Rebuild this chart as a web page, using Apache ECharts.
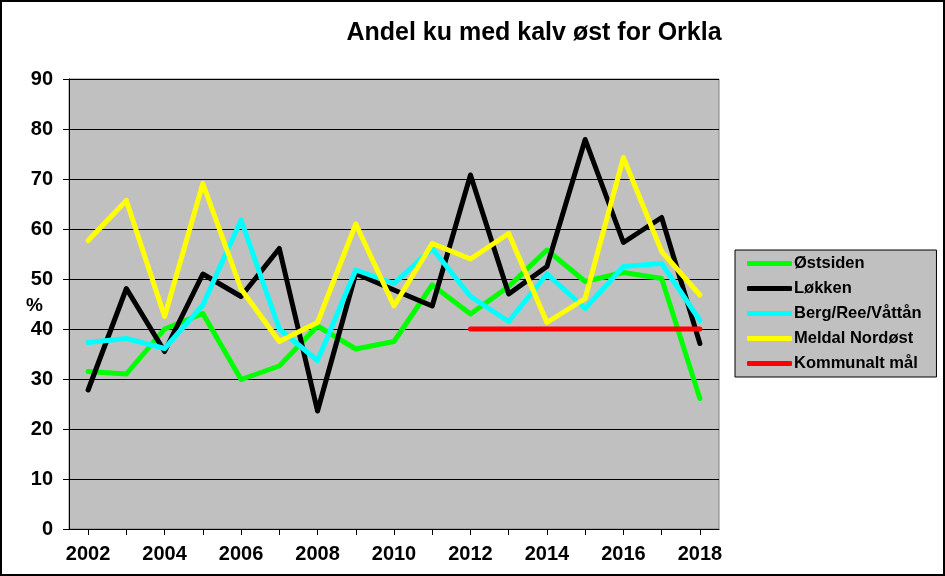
<!DOCTYPE html>
<html>
<head>
<meta charset="utf-8">
<script src="https://cdn.jsdelivr.net/npm/echarts@6/dist/echarts.min.js"></script>
<style>
html,body{margin:0;padding:0;background:#fff;}
#wrap{position:absolute;left:0;top:0;width:945px;height:576px;box-sizing:border-box;border:2px solid #000;}
#chart{position:absolute;left:-2px;top:-2px;width:945px;height:576px;}
</style>
</head>
<body>
<div id="wrap"><div id="chart"></div></div>
<script>
var years = ['2002','2003','2004','2005','2006','2007','2008','2009','2010','2011','2012','2013','2014','2015','2016','2017','2018'];
var ostsiden = [31.5, 31, 40, 43.1, 29.9, 32.6, 40.6, 36, 37.5, 48.8, 43, 48.5, 55.8, 49.5, 51.3, 50.1, 26.1];
var lokken = [27.8, 48.1, 35.5, 51, 46.5, 56.1, 23.6, 51.1, 47.8, 44.6, 70.8, 47, 52.5, 77.9, 57.3, 62.3, 37.1];
var bergReeVattan = [37.3, 38.1, 36.1, 44.8, 61.8, 40, 33.7, 51.8, 49.1, 56.1, 46.5, 41.5, 51, 44.1, 52.5, 53.1, 41.7];
var meldalNordost = [57.7, 65.7, 42.5, 69.1, 48, 37.5, 41.3, 61, 44.6, 57.1, 54, 59.1, 41.3, 46.1, 74.3, 55.5, 46.8];
var kommunaltMal = [null, null, null, null, null, null, null, null, null, null, 40, 40, 40, 40, 40, 40, 40];
var seriesNames = ['Østsiden', 'Løkken', 'Berg/Ree/Våttån', 'Meldal Nordøst', 'Kommunalt mål'];
var seriesColors = ['#00FF00', '#000000', '#00FFFF', '#FFFF00', '#FF0000'];
var seriesData = [ostsiden, lokken, bergReeVattan, meldalNordost, kommunaltMal];
var titleText = 'Andel ku med kalv øst for Orkla';

var font = 'Arial, "Liberation Sans", sans-serif';
var chart = echarts.init(document.getElementById('chart'), null, {renderer: 'canvas'});
var series = seriesNames.map(function (n, i) {
  return {
    name: n, type: 'line', data: seriesData[i], symbol: 'none', connectNulls: false,
    lineStyle: {color: seriesColors[i], width: 5, cap: 'round', join: 'round'},
    itemStyle: {color: seriesColors[i]},
    animation: false
  };
});
chart.setOption({
  animation: false,
  graphic: [{
    type: 'text', x: 534, y: 33,
    style: {text: titleText, font: 'bold 25px ' + font, fill: '#000', align: 'center', verticalAlign: 'middle'}
  }, {
    type: 'text', left: 26, top: 296,
    style: {text: '%', font: 'bold 19px ' + font, fill: '#000'}
  }],
  grid: {
    left: 69, top: 79, right: 226, bottom: 47, containLabel: false,
    show: true, backgroundColor: '#C0C0C0', borderColor: '#808080', borderWidth: 1
  },
  legend: {
    orient: 'vertical', left: 735, top: 250,
    backgroundColor: '#C0C0C0', borderColor: '#000', borderWidth: 1,
    padding: [5, 15, 5, 12],
    itemWidth: 45, itemHeight: 5, itemGap: 8, icon: 'roundRect',
    textStyle: {fontFamily: font, fontSize: 16.5, fontWeight: 'bold', color: '#000', lineHeight: 17, padding: [0, 0, 0, -3]},
    data: seriesNames
  },
  xAxis: {
    type: 'category', data: years, boundaryGap: true,
    axisLine: {show: true, lineStyle: {color: '#000', width: 1}},
    axisTick: {show: true, alignWithLabel: true, interval: 0, length: 6, lineStyle: {color: '#000'}},
    axisLabel: {interval: 1, margin: 15, fontFamily: font, fontSize: 20, fontWeight: 'bold', color: '#000'},
    splitLine: {show: false}
  },
  yAxis: {
    type: 'value', min: 0, max: 90, interval: 10,
    axisLine: {show: true, lineStyle: {color: '#000', width: 1}},
    axisTick: {show: true, length: 6, lineStyle: {color: '#000'}},
    axisLabel: {margin: 16, fontFamily: font, fontSize: 20, fontWeight: 'bold', color: '#000'},
    splitLine: {show: true, lineStyle: {color: '#000', width: 1}}
  },
  series: series
});
</script>
</body>
</html>
